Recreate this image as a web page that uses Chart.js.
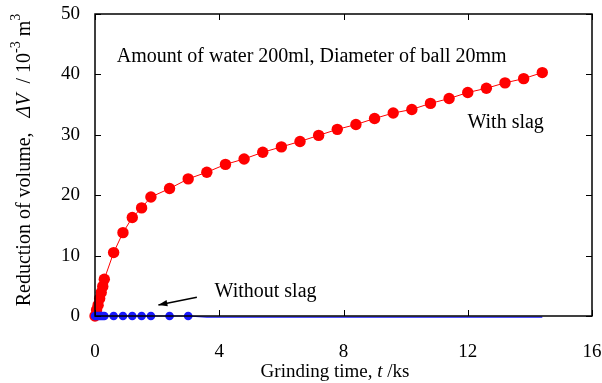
<!DOCTYPE html>
<html><head><meta charset="utf-8">
<script src="https://cdn.jsdelivr.net/npm/chart.js@4/dist/chart.umd.min.js"></script>
<style>html,body{margin:0;padding:0;background:#fff}#wrap{width:602px;height:383px}</style>
</head><body><div id="wrap"><canvas id="c" width="602" height="383"></canvas></div>
<script>
const withSlagTime = [0, 0.05, 0.1, 0.15, 0.2, 0.25, 0.3, 0.6, 0.9, 1.2, 1.5, 1.8, 2.4, 3.0, 3.6, 4.2, 4.8, 5.4, 6.0, 6.6, 7.2, 7.8, 8.4, 9.0, 9.6, 10.2, 10.8, 11.4, 12.0, 12.6, 13.2, 13.8, 14.4];
const withSlagVolume = [0, 1.0, 1.8, 2.9, 3.9, 4.9, 6.1, 10.5, 13.8, 16.3, 17.9, 19.7, 21.1, 22.7, 23.8, 25.1, 26.0, 27.1, 28.0, 28.9, 29.9, 30.9, 31.7, 32.7, 33.6, 34.2, 35.2, 36.0, 37.0, 37.7, 38.6, 39.3, 40.3];
const withoutSlagTime = [0, 0.05, 0.1, 0.15, 0.2, 0.25, 0.3, 0.6, 0.9, 1.2, 1.5, 1.8, 2.4, 3.0, 3.6, 14.4];
const withoutSlagVolume = [0, 0, 0, 0, 0, 0, 0, 0, 0, 0, 0, 0, 0, 0, -0.2, -0.2];
const withoutSlagMarker = [4.3, 4.3, 4.3, 4.3, 4.3, 4.3, 4.3, 4.3, 4.3, 4.3, 4.3, 4.3, 4.3, 4.3, 0, 0];
const xTicks = [0, 4, 8, 12, 16];
const yTicks = [0, 10, 20, 30, 40, 50];
const annotationText = "Amount of water 200ml, Diameter of ball 20mm";
const labelWith = "With slag";
const labelWithout = "Without slag";

const FONT = "'Liberation Serif', 'Times New Roman', serif";
const FS = 19;     // ticks, x title
const FA = 20;     // annotations, y title

const toXY = (xs, ys) => xs.map((x, i) => ({x: x, y: ys[i]}));

const decor = {
  id: 'decor',
  afterDraw(chart) {
    const ctx = chart.ctx, a = chart.chartArea;
    const xs = chart.scales.x, ys = chart.scales.y;
    ctx.save();
    ctx.strokeStyle = '#000'; ctx.lineWidth = 1.5;
    ctx.strokeRect(a.left, a.top, a.right - a.left, a.bottom - a.top);
    ctx.lineWidth = 1;
    const tl = 6;
    xTicks.forEach(v => {
      const px = Math.round(xs.getPixelForValue(v)) + 0.5;
      ctx.beginPath(); ctx.moveTo(px, a.bottom); ctx.lineTo(px, a.bottom - tl);
      ctx.moveTo(px, a.top); ctx.lineTo(px, a.top + tl); ctx.stroke();
    });
    yTicks.forEach(v => {
      const py = Math.round(ys.getPixelForValue(v)) + 0.5;
      ctx.beginPath(); ctx.moveTo(a.left, py); ctx.lineTo(a.left + tl, py);
      ctx.moveTo(a.right, py); ctx.lineTo(a.right - tl, py); ctx.stroke();
    });
    ctx.fillStyle = '#000';
    ctx.font = FA + 'px ' + FONT;
    ctx.textBaseline = 'middle';
    ctx.textAlign = 'left';
    ctx.fillText(annotationText, xs.getPixelForValue(0.7), ys.getPixelForValue(43.0));
    ctx.textAlign = 'right';
    ctx.fillText(labelWith, xs.getPixelForValue(14.45), ys.getPixelForValue(32.0));
    ctx.textAlign = 'left';
    ctx.fillText(labelWithout, xs.getPixelForValue(3.85), ys.getPixelForValue(4.0));
    const x1 = xs.getPixelForValue(3.28), y1 = ys.getPixelForValue(3.1);
    const x2 = xs.getPixelForValue(2.04), y2 = ys.getPixelForValue(1.82);
    ctx.lineWidth = 1.5;
    ctx.beginPath(); ctx.moveTo(x1, y1); ctx.lineTo(x2, y2); ctx.stroke();
    const ang = Math.atan2(y2 - y1, x2 - x1), L = 9, W = 3.2;
    ctx.beginPath();
    ctx.moveTo(x2, y2);
    ctx.lineTo(x2 - L * Math.cos(ang) + W * Math.sin(ang), y2 - L * Math.sin(ang) - W * Math.cos(ang));
    ctx.lineTo(x2 - L * Math.cos(ang) - W * Math.sin(ang), y2 - L * Math.sin(ang) + W * Math.cos(ang));
    ctx.closePath(); ctx.fill();
    const xParts = [["Grinding time, ", ""], ["t", "italic "], [" /ks", ""]];
    drawParts(ctx, xParts, 335, 372, FS, 13);
    ctx.save();
    ctx.translate(25, 160);
    ctx.rotate(-Math.PI / 2);
    const yParts = [["Reduction of volume,   ", ""], ["\u0394V", "italic "], ["  / 10", ""], ["-3", "", true], [" m", ""], ["3", "", true]];
    drawParts(ctx, yParts, 0, 0, FA, 14);
    ctx.restore();
    ctx.restore();
  }
};

function drawParts(ctx, parts, cx, cy, fs, sfs) {
  let total = 0;
  const ws = parts.map(p => {
    ctx.font = p[1] + (p[2] ? sfs : fs) + 'px ' + FONT;
    const w = ctx.measureText(p[0]).width; total += w; return w;
  });
  let x = cx - total / 2;
  ctx.textAlign = 'left'; ctx.textBaseline = 'middle';
  parts.forEach((p, i) => {
    ctx.font = p[1] + (p[2] ? sfs : fs) + 'px ' + FONT;
    ctx.fillText(p[0], x, p[2] ? cy - 9 : cy);
    x += ws[i];
  });
}

new Chart(document.getElementById('c'), {
  type: 'scatter',
  data: {
    datasets: [
      {
        label: 'Without slag',
        data: toXY(withoutSlagTime, withoutSlagVolume),
        showLine: true,
        borderColor: '#1818ff', backgroundColor: '#1818ff',
        borderWidth: 1.2, pointRadius: withoutSlagMarker, pointBorderWidth: 0,
        clip: false
      },
      {
        label: 'With slag',
        data: toXY(withSlagTime, withSlagVolume),
        showLine: true,
        borderColor: '#ff0000', backgroundColor: '#ff0000',
        borderWidth: 1, pointRadius: 5.7, pointBorderWidth: 0,
        clip: false
      }
    ]
  },
  options: {
    responsive: false, animation: false, devicePixelRatio: 1,
    layout: {padding: {top: 14, right: 10, left: 0, bottom: 0}},
    plugins: {legend: {display: false}, tooltip: {enabled: false}},
    scales: {
      x: {
        type: 'linear', min: 0, max: 16,
        afterFit: s => { s.height = 67; s.paddingLeft = 0; s.paddingRight = 0; },
        afterBuildTicks: s => { s.ticks = xTicks.map(v => ({value: v})); },
        grid: {display: false, drawTicks: false},
        border: {display: false},
        ticks: {color: '#000', font: {family: FONT, size: FS}, padding: 25, maxRotation: 0}
      },
      y: {
        type: 'linear', min: 0, max: 50,
        afterFit: s => { s.width = 95; s.paddingTop = 0; s.paddingBottom = 0; },
        afterBuildTicks: s => { s.ticks = yTicks.map(v => ({value: v})); },
        grid: {display: false, drawTicks: false},
        border: {display: false},
        ticks: {color: '#000', font: {family: FONT, size: FS}, padding: 15}
      }
    }
  },
  plugins: [decor]
});
</script></body></html>
